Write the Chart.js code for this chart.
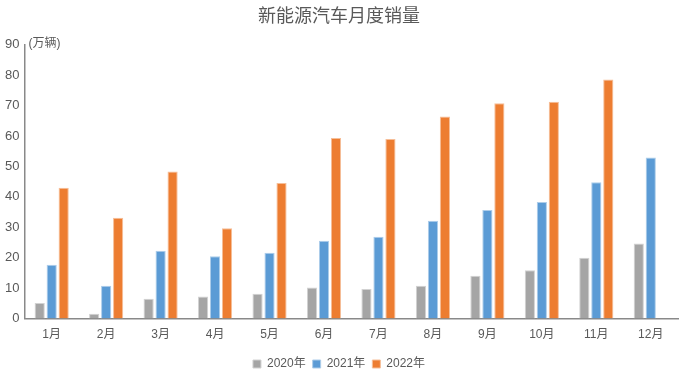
<!DOCTYPE html>
<html>
<head>
<meta charset="utf-8">
<script src="https://cdn.jsdelivr.net/npm/chart.js@4"></script>
<style>
  html, body { margin: 0; padding: 0; background: #fff; }
  #wrap { width: 680px; height: 371px; }
</style>
</head>
<body>
<div id="wrap"><canvas id="grafica"></canvas></div>
<script>
// datos (万辆)
const meses = ['1月', '2月', '3月', '4月', '5月', '6月', '7月', '8月', '9月', '10月', '11月', '12月'];
const ventas2020 = [5.1, 1.6, 6.5, 7.3, 8.2, 10.2, 9.7, 10.8, 14.1, 15.9, 20.0, 24.7];
const ventas2021 = [17.7, 10.8, 22.3, 20.5, 21.6, 25.6, 26.9, 32.1, 35.7, 38.3, 44.8, 52.9];
const ventas2022 = [43.0, 33.1, 48.3, 29.7, 44.5, 59.3, 59.0, 66.4, 70.7, 71.2, 78.5, null];
const series = ['2020年', '2021年', '2022年'];

const fuente = "'Liberation Sans', 'Noto Sans CJK SC', sans-serif";

// texto de la unidad arriba del eje Y
const unidad = {
    id: 'unidad',
    afterDraw(chart) {
        const ctx = chart.ctx;
        ctx.save();
        ctx.font = '12px ' + fuente;
        ctx.fillStyle = '#595959';
        ctx.textBaseline = 'middle';
        ctx.fillText('(万辆)', chart.chartArea.left + 4, chart.chartArea.top - 1);
        ctx.restore();
    }
};

const ctx = document.getElementById('grafica').getContext('2d');
new Chart(ctx, {
    type: 'bar',
    data: {
        labels: meses,
        datasets: [{
            label: series[0],
            data: ventas2020,
            backgroundColor: '#A5A5A5',
            borderColor: '#D2D2D2',
            borderWidth: 1
        }, {
            label: series[1],
            data: ventas2021,
            backgroundColor: '#5B9BD5',
            borderColor: '#ADCDEA',
            borderWidth: 1
        }, {
            label: series[2],
            data: ventas2022,
            backgroundColor: '#ED7D31',
            borderColor: '#F6BE98',
            borderWidth: 1
        }]
    },
    options: {
        responsive: true,
        maintainAspectRatio: false,
        animation: false,
        datasets: {
            bar: {
                categoryPercentage: 0.66,
                barPercentage: 0.85
            }
        },
        layout: {
            padding: { left: 0, right: 2, top: 0, bottom: -9 }
        },
        plugins: {
            title: {
                display: true,
                text: '新能源汽车月度销量',
                color: '#595959',
                font: { family: "'Noto Sans CJK SC', sans-serif", size: 18, weight: 'normal' },
                padding: { top: 4, bottom: 19 }
            },
            legend: {
                position: 'bottom',
                labels: {
                    color: '#595959',
                    font: { family: fuente, size: 12 },
                    boxWidth: 8,
                    boxHeight: 8,
                    padding: 7
                }
            },
            tooltip: { enabled: false }
        },
        scales: {
            x: {
                grid: { display: false, drawTicks: false },
                border: { color: '#898989', width: 1.5 },
                ticks: {
                    color: '#595959',
                    font: { family: fuente, size: 12 },
                    padding: 9
                }
            },
            y: {
                min: 0,
                max: 90,
                grid: { display: false, drawTicks: false },
                border: { color: '#898989', width: 1.5 },
                ticks: {
                    stepSize: 10,
                    color: '#595959',
                    font: { family: fuente, size: 13 },
                    padding: 5
                }
            }
        }
    },
    plugins: [unidad]
});
</script>
</body>
</html>
